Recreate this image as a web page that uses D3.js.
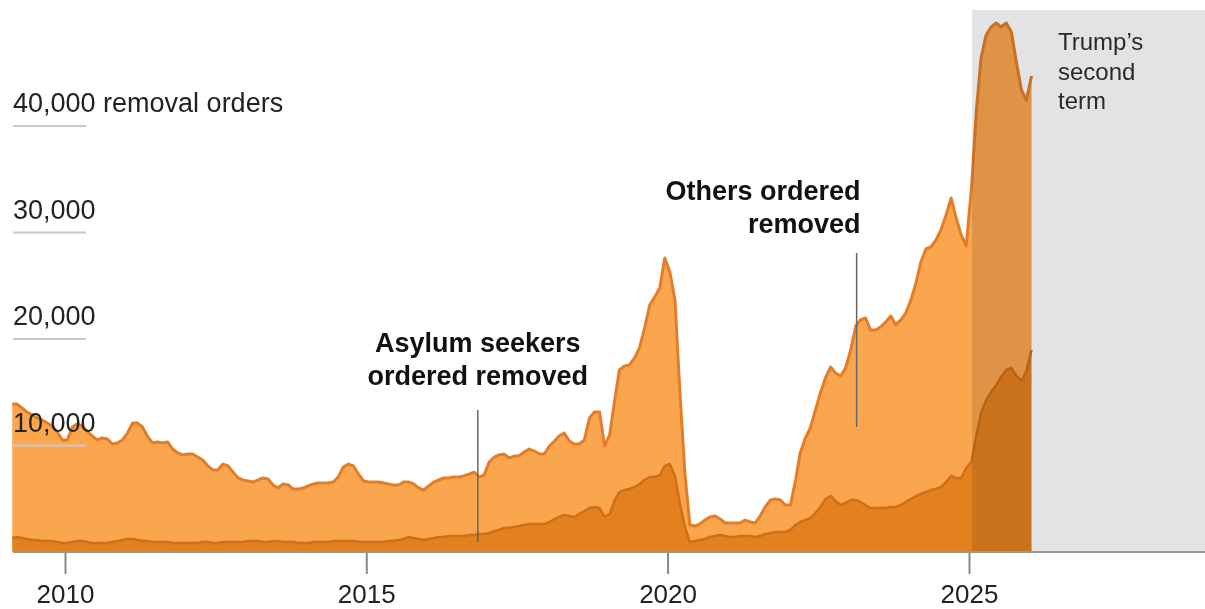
<!DOCTYPE html>
<html>
<head>
<meta charset="utf-8">
<script src="https://cdn.jsdelivr.net/npm/d3@7"></script>
<style>
  body { margin: 0; background: #fff; }
</style>
</head>
<body>
<div id="container"></div>
<script>
let w = 1205;
let h = 609;
let font = "'Liberation Sans', Arial, sans-serif";

// DATA - monthly removal orders, first value is Feb 2009
let firstMonth = "2009-02";
let totalOrders = [
  13900, 13900, 13520, 13150, 12860, 12580, 12400, 12110, 11830, 11270,
  10520, 10520, 11740, 12020, 11830, 11360, 10890, 10520, 10710, 10610, 10140, 10240,
  10520, 11170, 12110, 12110, 11740, 10890, 10240, 10330, 10240, 10330, 9670, 9300,
  9110, 9200, 9200, 8920, 8640, 8080, 7700, 7700, 8260, 8080, 7510, 6950,
  6760, 6670, 6570, 6760, 6950, 6860, 6290, 6010, 6390, 6290, 5920, 5920,
  6010, 6200, 6390, 6480, 6480, 6480, 6570, 7040, 7980, 8260, 8080, 7320,
  6670, 6570, 6570, 6570, 6480, 6390, 6290, 6290, 6570, 6570, 6390, 6010,
  5820, 6200, 6570, 6760, 6950, 6950, 7040, 7040, 7140, 7320, 7510, 7040,
  7230, 8450, 8920, 9110, 9200, 8830, 9010, 9010, 9390, 9670, 9480, 9200,
  9200, 9950, 10420, 10890, 11170, 10420, 10140, 10140, 10520, 12590, 13150, 13150,
  9950, 11000, 14270, 17090, 17470, 17560, 18220, 19160, 21030, 23190, 23940, 24790,
  27610, 26290, 23660, 15210, 7420, 2540, 2440, 2630, 3000, 3290, 3380, 3100,
  2720, 2720, 2720, 2720, 3000, 2820, 2720, 3380, 4230, 4880, 4980, 4880,
  4410, 4410, 6760, 9300, 10700, 11640, 13330, 14930, 16340, 17370, 16810, 16530,
  17280, 18970, 21220, 21790, 21970, 20850, 20850, 21130, 21600, 22160, 21320, 21790,
  22440, 23660, 25260, 27230, 28450, 28640, 29300, 30240, 31640, 33240, 31360, 29770,
  28730, 33990, 41500, 46390, 48550, 49300, 49670, 49300, 49670, 48830, 46010, 43380,
  42440, 44700
];
let asylumOrders = [
  1310, 1410, 1310, 1220, 1130, 1130, 1030, 1030, 1030, 940,
  850, 850, 940, 1030, 1030, 940, 850, 850, 850, 850, 940, 1030,
  1130, 1220, 1220, 1130, 1030, 1030, 940, 940, 940, 940, 850, 850,
  850, 850, 850, 850, 940, 940, 850, 850, 940, 940, 940, 940,
  940, 1030, 1030, 1030, 940, 940, 1030, 1030, 940, 940, 940, 850,
  850, 850, 940, 940, 940, 940, 1030, 1030, 1030, 1030, 1030, 940,
  940, 940, 940, 940, 940, 1030, 1030, 1130, 1220, 1410, 1310, 1220,
  1130, 1220, 1310, 1410, 1410, 1500, 1500, 1500, 1500, 1600, 1600, 1690,
  1690, 1780, 1970, 2070, 2250, 2250, 2350, 2440, 2540, 2630, 2630, 2630,
  2630, 2820, 3100, 3290, 3470, 3380, 3290, 3570, 3850, 4130, 4230, 4130,
  3290, 3570, 4880, 5630, 5820, 5920, 6100, 6390, 6760, 7040, 7040, 7230,
  8080, 8260, 7140, 4600, 2350, 940, 1030, 1130, 1220, 1410, 1500, 1600,
  1500, 1410, 1410, 1500, 1500, 1500, 1410, 1500, 1690, 1780, 1880, 1880,
  1880, 2070, 2540, 2820, 3000, 3190, 3660, 4230, 4980, 5260, 4790, 4410,
  4600, 4880, 4880, 4700, 4410, 4130, 4130, 4130, 4130, 4230, 4230, 4410,
  4700, 4980, 5260, 5450, 5630, 5820, 5920, 6100, 6570, 7140, 6950, 6950,
  7890, 8450, 10990, 13050, 14270, 15020, 15680, 16430, 17090, 17280, 16530, 16060,
  17000, 18970
];
let yTicks = [10000, 20000, 30000, 40000];
let xTicks = [2010, 2015, 2020, 2025];
let termStart = "2025-01-20";

let parseMonth = d3.timeParse("%Y-%m");
let parseDay = d3.timeParse("%Y-%m-%d");
let start = parseMonth(firstMonth);
let months = d3.timeMonth.range(start, d3.timeMonth.offset(start, totalOrders.length))
  .map(function(d){ return d3.timeDay.offset(d, 14); });
let rows = months.map(function(d, i){
  return { date: d, total: totalOrders[i], asylum: asylumOrders[i] };
});

// SVG
let viz = d3.select("#container").append("svg")
    .attr("width", w)
    .attr("height", h)
    .style("display", "block")
    .style("background-color", "white")
;

// SCALES
let xScale = d3.scaleTime()
  .domain([new Date(2010, 0, 1), new Date(2025, 0, 1)])
  .range([65, 969]);
let yScale = d3.scaleLinear().domain([0, 40000]).range([552, 126]);

// AREAS
let asylumArea = d3.area()
  .x(function(d){ return xScale(d.date); })
  .y0(yScale(0))
  .y1(function(d){ return yScale(d.asylum); });
let othersArea = d3.area()
  .x(function(d){ return xScale(d.date); })
  .y0(function(d){ return yScale(d.asylum); })
  .y1(function(d){ return yScale(d.total); });
let totalLine = d3.line()
  .x(function(d){ return xScale(d.date); })
  .y(function(d){ return yScale(d.total); });
let asylumLine = d3.line()
  .x(function(d){ return xScale(d.date); })
  .y(function(d){ return yScale(d.asylum); });

viz.append("path").datum(rows)
  .attr("d", othersArea)
  .attr("fill", "#faa64e");
viz.append("path").datum(rows)
  .attr("d", asylumArea)
  .attr("fill", "#e4811f");
viz.append("path").datum(rows)
  .attr("d", asylumLine)
  .attr("fill", "none")
  .attr("stroke", "#d16e16")
  .attr("stroke-width", 2.5)
  .attr("stroke-linejoin", "round");
viz.append("path").datum(rows)
  .attr("d", totalLine)
  .attr("fill", "none")
  .attr("stroke", "#e47d28")
  .attr("stroke-width", 3)
  .attr("stroke-linejoin", "round");

// TRUMP'S SECOND TERM SHADING
viz.append("rect")
  .attr("x", xScale(parseDay(termStart)))
  .attr("y", 10)
  .attr("width", w - xScale(parseDay(termStart)))
  .attr("height", yScale(0) - 10)
  .attr("fill", "#e3e2e4")
  .style("mix-blend-mode", "multiply");

viz.append("text")
  .attr("x", 1058)
  .attr("y", 50)
  .attr("font-family", font)
  .attr("font-size", 24)
  .attr("fill", "#2a2a2a")
  .selectAll("tspan").data(["Trump\u2019s", "second", "term"]).enter()
  .append("tspan")
    .attr("x", 1058)
    .attr("dy", function(d, i){ return i == 0 ? 0 : 29.5; })
    .text(function(d){ return d; });

// Y GRID + LABELS
viz.selectAll(".grid").data(yTicks).enter()
  .append("line")
    .attr("class", "grid")
    .attr("x1", 13)
    .attr("x2", 86)
    .attr("y1", function(d){ return yScale(d); })
    .attr("y2", function(d){ return yScale(d); })
    .attr("stroke", "#c9c9c9")
    .attr("stroke-width", 2);
viz.selectAll(".ylabel").data(yTicks).enter()
  .append("text")
    .attr("class", "ylabel")
    .attr("x", 13)
    .attr("y", function(d){ return yScale(d) - 14; })
    .attr("font-family", font)
    .attr("font-size", 27)
    .attr("fill", "#222")
    .text(function(d, i){
      return d3.format(",")(d) + (i == yTicks.length - 1 ? " removal orders" : "");
    });

// X AXIS
let xAxis = d3.axisBottom(xScale)
  .tickValues(xTicks.map(function(y){ return new Date(y, 0, 1); }))
  .tickFormat(d3.timeFormat("%Y"))
  .tickSize(22)
  .tickPadding(10.5);
let xAxisGroup = viz.append("g")
  .attr("transform", "translate(0," + yScale(0) + ")")
  .call(xAxis);
xAxisGroup.select(".domain").remove();
xAxisGroup.selectAll("line").attr("stroke", "#8a8a8a").attr("stroke-width", 2);
xAxisGroup.selectAll("text")
  .attr("font-family", font)
  .attr("font-size", 26)
  .attr("fill", "#222");

viz.append("line")
  .attr("x1", 13)
  .attr("x2", w)
  .attr("y1", yScale(0))
  .attr("y2", yScale(0))
  .attr("stroke", "#999")
  .attr("stroke-width", 2);

// ANNOTATIONS
let notes = [
  { date: "2016-11-07", lines: ["Asylum seekers", "ordered removed"], anchor: "middle", dx: 0, textY: 352, top: 410, bottom: 542 },
  { date: "2023-02-20", lines: ["Others ordered", "removed"], anchor: "end", dx: 4, textY: 200, top: 253, bottom: 427 }
];
notes.forEach(function(n){
  let nx = xScale(parseDay(n.date));
  viz.append("line")
    .attr("x1", nx).attr("x2", nx)
    .attr("y1", n.top).attr("y2", n.bottom)
    .attr("stroke", "#666")
    .attr("stroke-width", 1.5);
  viz.append("text")
    .attr("font-family", font)
    .attr("font-size", 27)
    .attr("font-weight", "bold")
    .attr("fill", "#111")
    .attr("text-anchor", n.anchor)
    .selectAll("tspan").data(n.lines).enter()
    .append("tspan")
      .attr("x", nx + n.dx)
      .attr("y", function(d, i){ return n.textY + i * 33; })
      .text(function(d){ return d; });
});
</script>
</body>
</html>
